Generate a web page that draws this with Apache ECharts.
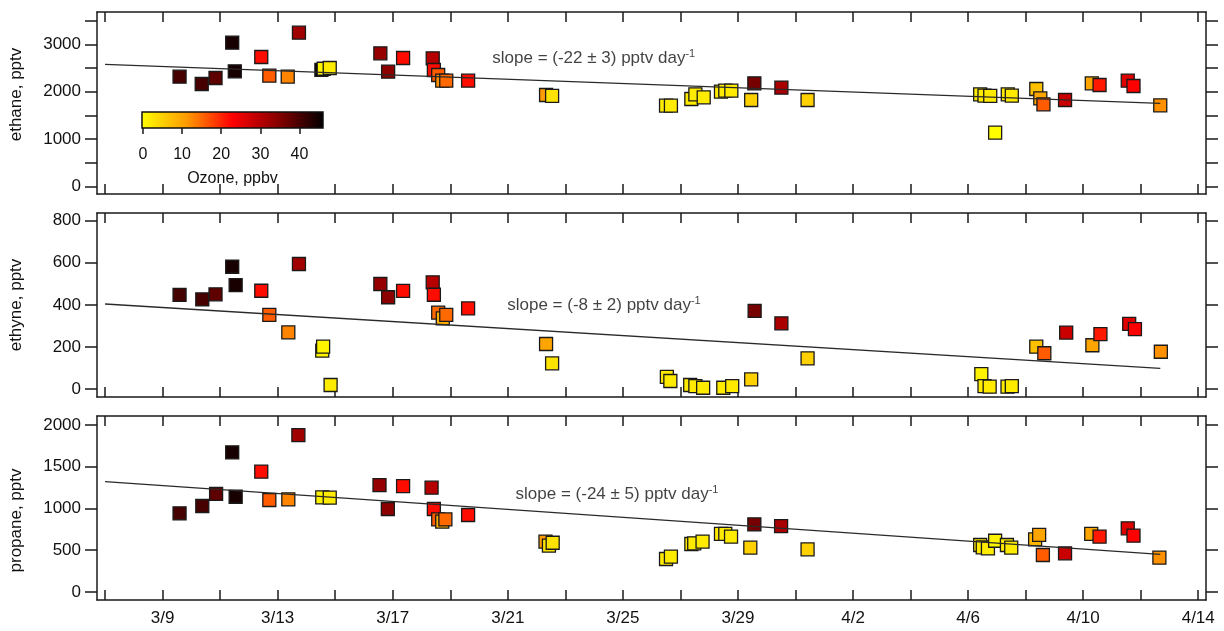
<!DOCTYPE html>
<html>
<head>
<meta charset="utf-8">
<script src="https://cdn.jsdelivr.net/npm/echarts@6/dist/echarts.min.js"></script>
<style>
html,body{margin:0;padding:0;background:#fff;}
#chart{width:1224px;height:631px;}
</style>
</head>
<body>
<div id="chart"></div>
<script>
// ---- data (x = day of March; 32 = 4/1) ----
const xTickDays = [7,9,11,13,15,17,19,21,23,25,27,29,31,33,35,37,39,41,43,45];
const xLabelDays = [9,13,17,21,25,29,33,37,41,45];

const ethaneDays  = [9.59,10.36,10.84,11.42,11.51,12.43,12.71,13.35,13.74,14.52,14.60,14.81,16.57,16.84,17.36,18.39,18.43,18.58,18.72,18.86,19.62,22.33,22.54,26.50,26.67,27.38,27.52,27.81,28.41,28.56,28.77,29.46,29.57,30.51,31.42,37.42,37.57,37.77,37.94,38.38,38.52,39.37,39.51,39.62,40.37,41.30,41.57,42.55,42.75,43.68];
const ethaneVals  = [2317,2163,2290,3033,2431,2732,2338,2317,3244,2460,2485,2500,2810,2423,2711,2705,2458,2353,2233,2233,2233,1932,1911,1706,1706,1847,1946,1883,2001,2022,2022,1826,2178,2086,1826,1946,1917,1911,1138,1946,1917,2058,1862,1736,1826,2178,2142,2233,2121,1715];
const ethaneOzone = [40,40,38,44,44,22,16,13,32,45,1,2,33,34,22,30,22,16,12,15,22,11,3,2,2,2,2,2,2,2,2,5,36,31,5,2,2,2,0,2,2,7,10,16,28,10,21,26,23,12];

const ethyneDays  = [9.59,10.38,10.84,11.42,11.54,12.43,12.71,13.37,13.74,14.55,14.58,14.84,16.57,16.84,17.36,18.39,18.43,18.58,18.74,18.86,19.62,22.33,22.54,26.53,26.65,27.34,27.52,27.79,28.49,28.80,29.46,29.58,30.51,31.42,37.46,37.57,37.75,38.37,38.52,39.37,39.65,40.41,41.32,41.60,42.60,42.80,43.70];
const ethyneVals  = [447,426,450,581,494,467,352,269,594,182,201,19,499,436,466,507,448,363,336,352,383,214,122,58,38,19,14,6,6,14,46,371,312,146,71,14,11,11,14,201,170,268,208,261,310,285,177];
const ethyneOzone = [40,40,38,44,44,22,16,13,32,1,1,2,33,34,22,30,22,15,9,15,22,10,3,2,2,2,2,2,2,2,5,36,31,5,1,2,2,2,2,7,16,28,10,21,26,23,12];

const propaneDays  = [9.59,10.38,10.86,11.42,11.54,12.43,12.71,13.37,13.72,14.55,14.81,16.54,16.83,17.36,18.35,18.43,18.58,18.72,18.83,19.62,22.31,22.43,22.56,26.50,26.67,27.38,27.48,27.77,28.41,28.56,28.76,29.43,29.57,30.50,31.42,37.42,37.51,37.69,37.94,38.35,38.50,39.33,39.47,39.60,40.37,41.28,41.57,42.55,42.75,43.65];
const propaneVals  = [942,1030,1174,1673,1141,1441,1102,1110,1880,1134,1130,1281,994,1269,1249,994,870,842,870,922,603,555,590,395,423,575,583,603,695,695,663,531,810,790,511,563,535,523,614,563,531,631,683,443,463,695,663,763,674,411];
const propaneOzone = [40,40,38,44,44,22,16,13,32,1,2,33,34,22,30,22,16,9,15,22,11,3,3,2,2,2,2,2,2,2,2,5,36,31,5,2,2,2,1,2,2,8,10,16,28,10,21,26,23,12];

// linear fits (end points)
const fitDays = [7.0, 43.68];
const ethaneFit = [2578, 1757];
const ethyneFit = [404, 98];
const propaneFit = [1321, 451];

// slope annotations [day, value]
const ethaneNote = [20.46, 2711];
const ethyneNote = [20.98, 399];
const propaneNote = [21.27, 1170];

const ozoneTicks = [0,10,20,30,40];
const ozoneColors = ['#ffff00','#ff9a00','#ff0000','#880000','#000000'];

// ---- build ----
const FONT = 'Liberation Sans, Arial, sans-serif';
const TXT = '#111';
const LINE = '#1a1a1a';

const panels = [
  {name:'ethane, pptv', days:ethaneDays, vals:ethaneVals, oz:ethaneOzone, fit:ethaneFit, note:ethaneNote,
   slope:'(-22 ± 3)', min:-154, max:3680, ticks:[0,500,1000,1500,2000,2500,3000,3500], labels:[0,1000,2000,3000],
   grid:{left:97, top:12, width:1109, height:182}, namePad:[0,0,0,17]},
  {name:'ethyne, pptv', days:ethyneDays, vals:ethyneVals, oz:ethyneOzone, fit:ethyneFit, note:ethyneNote,
   slope:'(-8 ± 2)', min:-38, max:836.5, ticks:[0,200,400,600,800], labels:[0,200,400,600,800],
   grid:{left:97, top:213, width:1109, height:184}, namePad:[0,0,0,0]},
  {name:'propane, pptv', days:propaneDays, vals:propaneVals, oz:propaneOzone, fit:propaneFit, note:propaneNote,
   slope:'(-24 ± 5)', min:-96, max:2108, ticks:[0,500,1000,1500,2000], labels:[0,500,1000,1500,2000],
   grid:{left:97, top:416, width:1109, height:184}, namePad:[0,25,0,0]}
];

const grids = [], xAxes = [], yAxes = [], series = [];
const dayFmt = v => (v <= 31 ? '3/' + v : '4/' + (v - 31));
const numFmt = v => String(Math.round(v));

panels.forEach((p, i) => {
  grids.push(Object.assign({}, p.grid));
  const baseX = {
    type:'value', gridIndex:i, min:6.72, max:45.27,
    axisLine:{show:true, onZero:false, lineStyle:{color:LINE, width:1.5}},
    axisTick:{show:true, inside:true, length:10, customValues:xTickDays, lineStyle:{color:LINE, width:1.5}},
    splitLine:{show:false}
  };
  xAxes.push(Object.assign({}, baseX, {
    position:'bottom',
    axisLabel:{show:i===2, customValues:xLabelDays, formatter:dayFmt, margin:10,
      fontFamily:FONT, fontSize:17, color:TXT}
  }));
  xAxes.push(Object.assign({}, baseX, {position:'top', axisLabel:{show:false}}));
  const baseY = {
    type:'value', gridIndex:i, min:p.min, max:p.max,
    axisLine:{show:true, onZero:false, lineStyle:{color:LINE, width:1.5}},
    axisTick:{show:true, inside:false, length:12, customValues:p.ticks, lineStyle:{color:LINE, width:1.5}},
    splitLine:{show:false}
  };
  yAxes.push(Object.assign({}, baseY, {
    position:'left',
    name:p.name, nameLocation:'middle', nameGap:72,
    nameTextStyle:{fontFamily:FONT, fontSize:17, color:TXT, padding:p.namePad},
    axisLabel:{show:true, customValues:p.labels, formatter:numFmt, margin:16, fontFamily:FONT, fontSize:17, color:TXT}
  }));
  yAxes.push(Object.assign({}, baseY, {position:'right', axisLabel:{show:false}}));
});

// colour bar axes
grids.push({left:142, top:112, width:181, height:16, show:true, z:5,
  backgroundColor:{type:'linear', x:0, y:0, x2:1, y2:0,
    colorStops: ozoneColors.map((c, k) => ({offset:k/(ozoneColors.length-1), color:c}))},
  borderColor:'#111', borderWidth:1.5});
xAxes.push({type:'value', gridIndex:3, min:-0.25, max:46, position:'bottom',
  name:'Ozone, ppbv', nameLocation:'middle', nameGap:43,
  nameTextStyle:{fontFamily:FONT, fontSize:16, color:TXT},
  axisLine:{show:false},
  axisTick:{show:true, inside:false, length:6, customValues:ozoneTicks, lineStyle:{color:LINE, width:1.5}},
  axisLabel:{show:true, customValues:ozoneTicks, formatter:numFmt, margin:19, fontFamily:FONT, fontSize:16, color:TXT},
  splitLine:{show:false}});
yAxes.push({type:'value', gridIndex:3, min:0, max:1, show:false});

// scatter series
panels.forEach((p, i) => {
  series.push({
    type:'scatter', xAxisIndex:i*2, yAxisIndex:i*2, symbol:'rect', symbolSize:13, z:3,
    itemStyle:{borderColor:'#1a1a1a', borderWidth:1.3, opacity:1},
    data:p.days.map((d, k) => [d, p.vals[k], p.oz[k]]),
    silent:true, animation:false
  });
});
// fit lines
panels.forEach((p, i) => {
  series.push({
    type:'line', xAxisIndex:i*2, yAxisIndex:i*2, z:4, symbol:'none', silent:true, animation:false,
    lineStyle:{color:'#2a2a2a', width:1.3},
    data:fitDays.map((d, k) => [d, p.fit[k]])
  });
});
// slope annotations
panels.forEach((p, i) => {
  series.push({
    type:'scatter', xAxisIndex:i*2, yAxisIndex:i*2, symbolSize:0, z:6, silent:true, animation:false,
    data:[p.note],
    label:{show:true, position:'right', distance:0,
      formatter:'{a|slope = ' + p.slope + ' pptv day}{s|-1}',
      rich:{
        a:{fontFamily:FONT, fontSize:17, color:TXT, lineHeight:20},
        s:{fontFamily:FONT, fontSize:11, color:TXT, verticalAlign:'top', lineHeight:20, padding:[0,0,8,0]}
      }}
  });
});

const chart = echarts.init(document.getElementById('chart'), null, {renderer:'canvas'});
chart.setOption({
  animation:false,
  backgroundColor:'#fff',
  grid:grids, xAxis:xAxes, yAxis:yAxes,
  visualMap:{type:'continuous', show:false, min:-0.25, max:46, dimension:2, seriesIndex:[0,1,2],
    inRange:{color:ozoneColors}},
  series:series
});
</script>
</body>
</html>
